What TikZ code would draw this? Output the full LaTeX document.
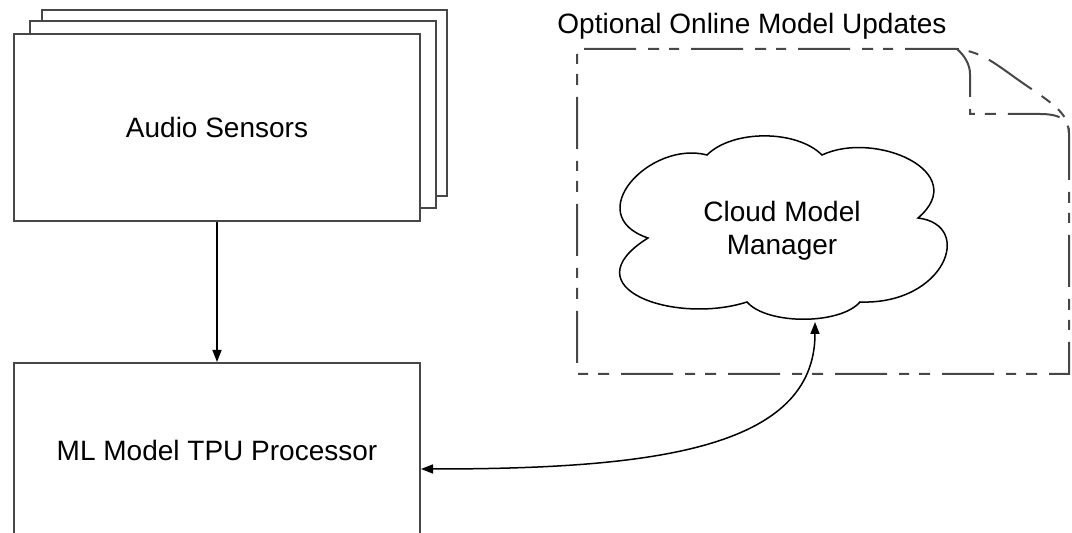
\documentclass[tikz,border=0pt]{standalone}
\usepackage{fontspec}
\setmainfont{Liberation Sans}
\usetikzlibrary{arrows.meta}
\begin{document}
\begin{tikzpicture}[x=0.5pt,y=-0.5pt,
  box/.style={draw=black!72, line width=1pt, fill=white,
    minimum width=203pt, minimum height=93.5pt, inner sep=0pt,
    font=\fontsize{14}{16.5}\selectfont},
  caption/.style={font=\fontsize{14}{16.5}\selectfont, inner sep=0pt},
  docline/.style={draw=black!72, line width=1pt,
    dash pattern=on 26pt off 6pt on 5pt off 5pt on 5.5pt off 6pt},
  tip/.tip={Triangle[length=6pt,width=4.5pt]},
  link/.style={draw=black, line width=0.75pt},
]
\useasboundingbox (0,0) rectangle (1072,533);
\clip (0,0) rectangle (1072,533);

% stacked sensor sheets, back to front
\node[box, minimum width=202.5pt, minimum height=93pt] (sheet3) at (244.5,103) {};
\node[box] (sheet2) at (233,114.5) {};
\node[box] (audio) at (217,127.5) {Audio Sensors};

% processor box (runs past the lower edge)
\node[box, minimum height=87pt] (ml) at (217,450) {ML Model TPU Processor};

% document outline with folded corner
\draw[docline] (957,49) -- (577,49) -- (577,374) -- (1069,374) -- (1069,133)
  .. controls (1069,115) and (1055,105) .. (1030,88)
  .. controls (1000,68) and (985,52) .. (957,49);
\draw[docline] (957,49) .. controls (965,56) and (970,65) .. (970,74)
  -- (970,114) -- (1040,114) .. controls (1060,114) and (1069,120) .. (1069,133);
\node[caption, anchor=base west] (title) at (557,34) {Optional Online Model Updates};

% cloud
\draw[black, line width=0.75pt, fill=white]
  (707,155) .. controls (732.5,129.5) and (796.5,129.5) .. (822,155)
  .. controls (875,130) and (972,172) .. (918,218)
  .. controls (975,225) and (945,305) .. (860,302)
  .. controls (840,325) and (767,325) .. (747,302)
  .. controls (675,325) and (568,288) .. (648,238)
  .. controls (580,215) and (650,140) .. (707,155) -- cycle;
\node[caption, align=center] (cloudtext) at (782,231) {Cloud Model\\Manager};
\coordinate (cloudbase) at (815,322);

% connectors
\draw[link, -tip] (audio.south) -- (ml.north);
\draw[link, tip-tip] (cloudbase) .. controls (815,450) and (650,469) .. ([yshift=-9.5pt]ml.east);
\end{tikzpicture}
\end{document}
